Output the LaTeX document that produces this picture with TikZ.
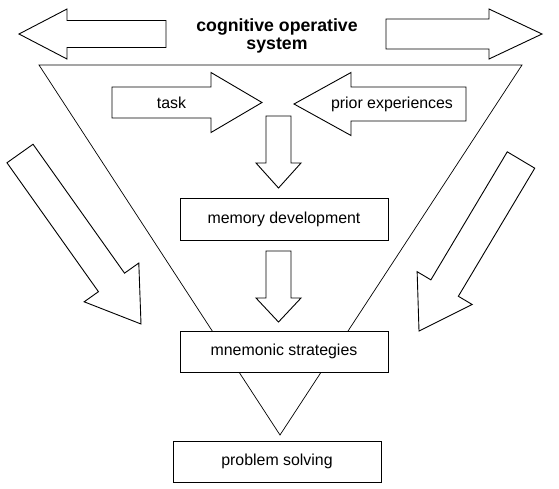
\documentclass[tikz,border=0pt]{standalone}
\usepackage{fontspec}
\setmainfont{Liberation Sans}
\usepackage{tikz}
\usetikzlibrary{calc}
\tikzset{
  line-style/.style = {
    draw, line width=0.9pt, line join=miter
  },
  arrow-style/.style = {
    line-style, fill=white
  },
  triangle-style/.style = {
    draw, line width=0.7pt
  },
  box-style/.style = {
    rectangle, line-style, fill=white,
    minimum width=208pt,
    minimum height=42pt,
    inner sep=0pt,
    font=\fontsize{15.9}{18}\selectfont
  },
  label-style/.style = {
    inner sep=0pt,
    font=\fontsize{15.9}{18}\selectfont
  },
  title-style/.style = {
    inner sep=0pt, align=center,
    font=\fontsize{17.7}{18}\selectfont\bfseries
  }
}
\def\createBlockArrow from:#1 to:#2 shaft:#3 head:#4 length:#5;{
  \coordinate (base) at ($(#2)!#5!(#1)$);
  \draw [arrow-style] ($(#1)!#3!90:(#2)$) -- ($(base)!#3!90:(#2)$)
        -- ($(base)!#4!90:(#2)$) -- (#2) -- ($(base)!#4!-90:(#2)$)
        -- ($(base)!#3!-90:(#2)$) -- ($(#1)!#3!-90:(#2)$) -- cycle;
}
\begin{document}
\begin{tikzpicture}[x=1pt,y=-1pt]
  \useasboundingbox (0,0) rectangle (559,488);

  \draw [triangle-style] (39,65) -- (522,65) -- (280,435) -- cycle;

  % outer arrows
  \createBlockArrow from:{166,34} to:{19,34} shaft:13.5pt head:25pt length:48pt;
  \createBlockArrow from:{386,34} to:{542,34} shaft:15pt head:25pt length:53pt;
  \createBlockArrow from:{20,153.5} to:{141,324} shaft:16pt head:33.5pt length:51pt;
  \createBlockArrow from:{521,160} to:{419,331} shaft:16pt head:32pt length:50pt;

  % inner arrows
  \createBlockArrow from:{112,102.5} to:{262,102.5} shaft:15.5pt head:30pt length:51pt;
  \createBlockArrow from:{466,104} to:{294,104} shaft:17pt head:31.5pt length:57pt;
  \createBlockArrow from:{278.5,116} to:{278.5,188} shaft:12.5pt head:22.5pt length:25pt;
  \createBlockArrow from:{278.5,251} to:{278.5,322} shaft:12.5pt head:22.5pt length:24pt;

  \node [title-style] (system) at (277,35.5) {cognitive operative\\system};
  \node [label-style] (task) at (171.5,102.5) {task};
  \node [label-style] (prior) at (392,104) {prior experiences};

  \node [box-style] (memory) at (284,219) {memory development};
  \node [box-style, minimum height=41pt] (mnemonic) at (284,351.5) {mnemonic strategies};
  \node [box-style, minimum height=41pt] (solving) at (277,461.5) {problem solving};
\end{tikzpicture}
\end{document}
